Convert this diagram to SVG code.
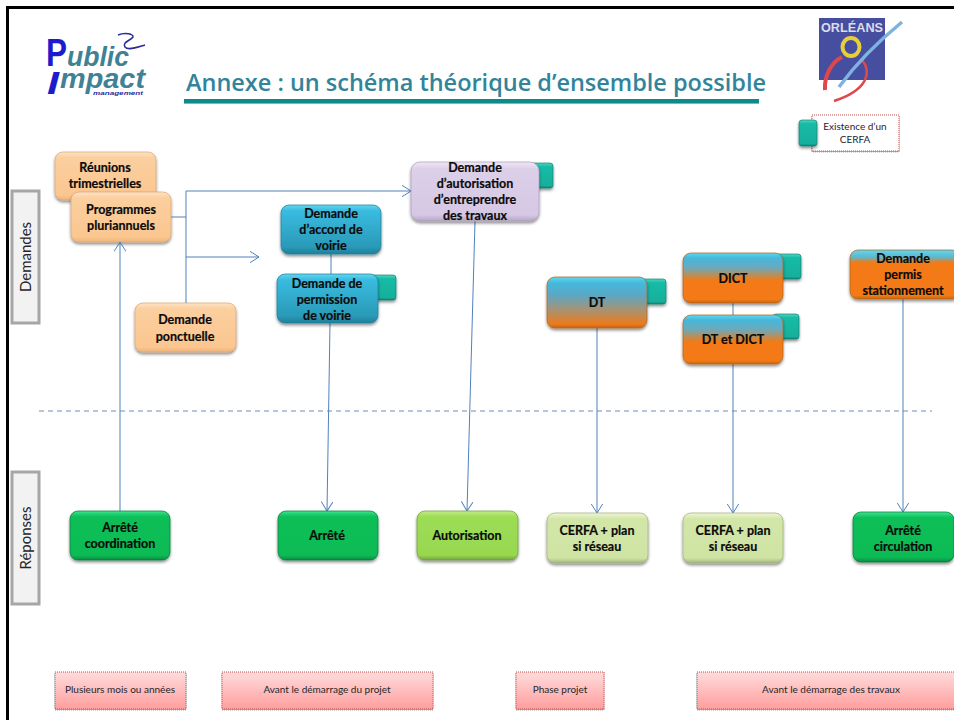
<svg xmlns="http://www.w3.org/2000/svg" width="954" height="720" viewBox="0 0 954 720">
<style>
.n{font:700 12.5px Lato,"Liberation Sans",sans-serif;fill:#0a0a0a;stroke:#0a0a0a;stroke-width:.2;text-anchor:middle}
.s{font:400 10px Lato,"Liberation Sans",sans-serif;fill:#262626;text-anchor:middle}
.side{font:400 15px Lato,"Liberation Sans",sans-serif;fill:#262626;text-anchor:middle}
.box{filter:url(#sh);stroke-width:.7}
.tab{fill:url(#gTeal);stroke:#12766b;stroke-width:.6;filter:url(#sh)}
.con{fill:none;stroke:#4f81bd;stroke-width:1}
.red{fill:url(#gRed);stroke:#c0504d;stroke-width:1;stroke-dasharray:1 1;filter:url(#shs)}
.sd{fill:#f2f2f2;stroke:#a6a6a6;stroke-width:3}
</style>
<defs>
<filter id="sh" x="-15%" y="-15%" width="130%" height="140%"><feDropShadow dx="0" dy="2" stdDeviation="1.500" flood-color="#000" flood-opacity=".45"/></filter>
<filter id="shs" x="-5%" y="-10%" width="110%" height="125%"><feDropShadow dx="0" dy="1" stdDeviation=".7" flood-color="#000" flood-opacity=".35"/></filter>
<linearGradient id="gOr" x1="0" y1="0" x2="0" y2="1"><stop offset="0" stop-color="#fde3c6"/><stop offset=".12" stop-color="#fbcf9f"/><stop offset=".9" stop-color="#fbc690"/><stop offset="1" stop-color="#eeb47a"/></linearGradient>
<linearGradient id="gBl" x1="0" y1="0" x2="0" y2="1"><stop offset="0" stop-color="#62d6ee"/><stop offset=".12" stop-color="#39bbe0"/><stop offset=".85" stop-color="#2a9ab8"/><stop offset="1" stop-color="#1f7f9a"/></linearGradient>
<linearGradient id="gLi" x1="0" y1="0" x2="0" y2="1"><stop offset="0" stop-color="#efe8f5"/><stop offset=".12" stop-color="#dccfe8"/><stop offset=".9" stop-color="#d6c8e4"/><stop offset="1" stop-color="#b5a6c4"/></linearGradient>
<linearGradient id="gDt" x1="0" y1="0" x2="0" y2="1"><stop offset="0" stop-color="#5fd8ef"/><stop offset=".12" stop-color="#45b8dc"/><stop offset=".35" stop-color="#5ba7c4"/><stop offset=".65" stop-color="#a99272"/><stop offset=".92" stop-color="#ec7b1c"/><stop offset="1" stop-color="#c9660f"/></linearGradient>
<linearGradient id="gDi" x1="0" y1="0" x2="0" y2="1"><stop offset="0" stop-color="#5fd8ef"/><stop offset=".1" stop-color="#45b8dc"/><stop offset=".3" stop-color="#6ea8b8"/><stop offset=".55" stop-color="#f37a12"/><stop offset=".93" stop-color="#f37a12"/><stop offset="1" stop-color="#c9660f"/></linearGradient>
<linearGradient id="gPe" x1="0" y1="0" x2="0" y2="1"><stop offset="0" stop-color="#5fd8ef"/><stop offset=".14" stop-color="#5cb8d0"/><stop offset=".26" stop-color="#f37a12"/><stop offset=".93" stop-color="#f37a12"/><stop offset="1" stop-color="#c9660f"/></linearGradient>
<linearGradient id="gGr" x1="0" y1="0" x2="0" y2="1"><stop offset="0" stop-color="#3ee38e"/><stop offset=".12" stop-color="#08bf57"/><stop offset=".9" stop-color="#08bb54"/><stop offset="1" stop-color="#068f42"/></linearGradient>
<linearGradient id="gLm" x1="0" y1="0" x2="0" y2="1"><stop offset="0" stop-color="#c4ec86"/><stop offset=".12" stop-color="#9cdd56"/><stop offset=".9" stop-color="#98d850"/><stop offset="1" stop-color="#74a83c"/></linearGradient>
<linearGradient id="gPa" x1="0" y1="0" x2="0" y2="1"><stop offset="0" stop-color="#eef6d4"/><stop offset=".12" stop-color="#d2e6a8"/><stop offset=".9" stop-color="#cfe4a3"/><stop offset="1" stop-color="#a4b480"/></linearGradient>
<linearGradient id="gTeal" x1="0" y1="0" x2="0" y2="1"><stop offset="0" stop-color="#4fd6c2"/><stop offset=".15" stop-color="#16bba6"/><stop offset=".9" stop-color="#14b09c"/><stop offset="1" stop-color="#0e8878"/></linearGradient>
<linearGradient id="gRed" x1="0" y1="0" x2="0" y2="1"><stop offset="0" stop-color="#ffdcdc"/><stop offset="1" stop-color="#ff9e9e"/></linearGradient>
<marker id="arr" viewBox="0 0 10 12" refX="9.500" refY="6" markerWidth="10" markerHeight="12" markerUnits="userSpaceOnUse" orient="auto"><path d="M0 0L9.500 6L0 12" fill="none" stroke="#4f81bd" stroke-width="1"/></marker>
</defs>

<rect width="954" height="720" fill="#fff"/>
<path d="M7.500 720V7.500H954" fill="none" stroke="#000" stroke-width="3"/>

<g id="logo-public-impact">
<text x="46" y="66" font-family="Liberation Sans,sans-serif" font-size="38" font-weight="700" fill="#1c1ccc" textLength="21" lengthAdjust="spacingAndGlyphs">P</text>
<text x="67" y="66" font-family="Liberation Sans,sans-serif" font-size="27" font-weight="700" font-style="italic" fill="#3f8296" textLength="62" lengthAdjust="spacingAndGlyphs">ublic</text>
<text x="47" y="94" font-family="Liberation Sans,sans-serif" font-size="32" font-weight="700" font-style="italic" fill="#1c1ccc" textLength="12" lengthAdjust="spacingAndGlyphs">I</text>
<text x="60" y="88" font-family="Liberation Sans,sans-serif" font-size="27" font-weight="700" font-style="italic" fill="#3f8296" textLength="85" lengthAdjust="spacingAndGlyphs">mpact</text>
<text x="93" y="95" font-family="Liberation Sans,sans-serif" font-size="6" font-weight="700" font-style="italic" fill="#2a2a9a" textLength="50" lengthAdjust="spacingAndGlyphs">management</text>
<path d="M118 35C125 32 134 34 133 37C130 41 122 42 125 47C128 51 138 47 145 45" fill="none" stroke="#2a2a9a" stroke-width="1.500"/>
</g>

<g id="title">
<text x="186" y="91" font-family="Open Sans,Liberation Sans,sans-serif" font-size="23.500" font-weight="600" fill="#31849b" textLength="580" lengthAdjust="spacing">Annexe : un schéma théorique d’ensemble possible</text>
<rect x="184" y="99" width="575" height="4" fill="#0f8a8a" filter="url(#shs)"/>
</g>

<g id="logo-orleans">
<rect x="819" y="18" width="66" height="62" fill="#464ea0"/>
<text x="852" y="32" font-family="Liberation Sans,sans-serif" font-size="12.500" font-weight="700" fill="#dcdcea" text-anchor="middle" textLength="62" lengthAdjust="spacingAndGlyphs">ORLÉANS</text>
<ellipse cx="851" cy="47" rx="8.500" ry="9" fill="none" stroke="#e6cf3a" stroke-width="4"/>
<path d="M842 57C832 62 824 75 825 90" fill="none" stroke="#e0474c" stroke-width="4"/>
<path d="M862 60C872 72 868 90 834 101" fill="none" stroke="#e0474c" stroke-width="2.500"/>
<path d="M839 87C855 65 880 40 902 22" fill="none" stroke="#7fb2e0" stroke-width="3.500"/>
</g>

<g id="legend">
<rect class="red" x="812" y="115" width="87" height="36" style="fill:#fff"/>
<rect class="tab" x="799" y="120" width="18" height="26" rx="3"/>
<text class="s" x="855" y="130">Existence d’un</text>
<text class="s" x="855" y="143">CERFA</text>
</g>

<g id="side-demandes">
<rect class="sd" x="12" y="191" width="27" height="132"/>
<text class="side" transform="translate(31 257) rotate(-90)">Demandes</text>
</g>
<g id="side-reponses">
<rect class="sd" x="12" y="472" width="27" height="132"/>
<text class="side" transform="translate(31 538) rotate(-90)">Réponses</text>
</g>

<line id="separator" x1="39" y1="411" x2="932" y2="411" stroke="#4f6f9f" stroke-width=".8" stroke-dasharray="5 4"/>

<g id="node-reunions">
<rect class="box" x="55" y="152" width="101" height="48" rx="8" fill="url(#gOr)" stroke="#d9a672"/>
<text class="n" x="105" y="172">Réunions</text><text class="n" x="105" y="188">trimestrielles</text>
</g>
<g id="node-programmes">
<rect class="box" x="71" y="192" width="100" height="50" rx="8" fill="url(#gOr)" stroke="#d9a672"/>
<text class="n" x="121" y="214">Programmes</text><text class="n" x="121" y="230">pluriannuels</text>
</g>
<g id="node-ponctuelle">
<rect class="box" x="135" y="303" width="101" height="49" rx="8" fill="url(#gOr)" stroke="#d9a672"/>
<text class="n" x="185" y="324">Demande</text><text class="n" x="185" y="341">ponctuelle</text>
</g>

<g id="connectors">
<path class="con" d="M120 511V242" marker-end="url(#arr)"/>
<path class="con" d="M171 217H186"/>
<path class="con" d="M186 303V191H411" marker-end="url(#arr)"/>
<path class="con" d="M186 257H259" marker-end="url(#arr)"/>
<path class="con" d="M331 254V274"/>
<path class="con" d="M330 323L327 511" marker-end="url(#arr)"/>
<path class="con" d="M475 221L467 511" marker-end="url(#arr)"/>
<path class="con" d="M597 328V513" marker-end="url(#arr)"/>
<path class="con" d="M733 303V315"/>
<path class="con" d="M733 364V513" marker-end="url(#arr)"/>
<path class="con" d="M903 299V512" marker-end="url(#arr)"/>
</g>

<g id="node-accord">
<rect class="box" x="281" y="205" width="100" height="49" rx="8" fill="url(#gBl)" stroke="#1f7f9a"/>
<text class="n" x="331" y="218">Demande</text><text class="n" x="331" y="234">d’accord de</text><text class="n" x="331" y="250">voirie</text>
</g>
<g id="node-permission">
<rect class="tab" x="370" y="275" width="26" height="25" rx="3"/>
<rect class="box" x="277" y="274" width="101" height="49" rx="8" fill="url(#gBl)" stroke="#1f7f9a"/>
<text class="n" x="327" y="288">Demande de</text><text class="n" x="327" y="304">permission</text><text class="n" x="327" y="320">de voirie</text>
</g>
<g id="node-autorisation-travaux">
<rect class="tab" x="531" y="163" width="22" height="25" rx="3"/>
<rect class="box" x="411" y="162" width="128" height="59" rx="9" fill="url(#gLi)" stroke="#a99bb8"/>
<text class="n" x="475" y="172">Demande</text><text class="n" x="475" y="188">d’autorisation</text><text class="n" x="475" y="204">d’entreprendre</text><text class="n" x="475" y="220">des travaux</text>
</g>
<g id="node-dt">
<rect class="tab" x="640" y="279" width="26" height="25" rx="3"/>
<rect class="box" x="547" y="277" width="100" height="51" rx="8" fill="url(#gDt)" stroke="#b0651f"/>
<text class="n" x="597" y="307">DT</text>
</g>
<g id="node-dict">
<rect class="tab" x="775" y="254" width="26" height="25" rx="3"/>
<rect class="box" x="683" y="253" width="100" height="50" rx="8" fill="url(#gDi)" stroke="#b0651f"/>
<text class="n" x="733" y="283">DICT</text>
</g>
<g id="node-dt-dict">
<rect class="tab" x="773" y="314" width="26" height="25" rx="3"/>
<rect class="box" x="683" y="315" width="100" height="49" rx="8" fill="url(#gDi)" stroke="#b0651f"/>
<text class="n" x="733" y="344">DT et DICT</text>
</g>
<g id="node-permis">
<rect class="box" x="850" y="250" width="110" height="49" rx="8" fill="url(#gPe)" stroke="#b0651f"/>
<text class="n" x="903" y="263">Demande</text><text class="n" x="903" y="279">permis</text><text class="n" x="903" y="295">stationnement</text>
</g>

<g id="node-arrete-coordination">
<rect class="box" x="70" y="511" width="100" height="49" rx="8" fill="url(#gGr)" stroke="#067a3a"/>
<text class="n" x="120" y="532">Arrêté</text><text class="n" x="120" y="548">coordination</text>
</g>
<g id="node-arrete">
<rect class="box" x="278" y="511" width="100" height="49" rx="8" fill="url(#gGr)" stroke="#067a3a"/>
<text class="n" x="327" y="540">Arrêté</text>
</g>
<g id="node-autorisation">
<rect class="box" x="417" y="511" width="101" height="49" rx="8" fill="url(#gLm)" stroke="#6f9a3a"/>
<text class="n" x="467" y="540">Autorisation</text>
</g>
<g id="node-cerfa-1">
<rect class="box" x="547" y="513" width="101" height="50" rx="8" fill="url(#gPa)" stroke="#9fb07a"/>
<text class="n" x="597" y="535">CERFA + plan</text><text class="n" x="597" y="551">si réseau</text>
</g>
<g id="node-cerfa-2">
<rect class="box" x="683" y="513" width="100" height="50" rx="8" fill="url(#gPa)" stroke="#9fb07a"/>
<text class="n" x="733" y="535">CERFA + plan</text><text class="n" x="733" y="551">si réseau</text>
</g>
<g id="node-arrete-circulation">
<rect class="box" x="853" y="512" width="101" height="50" rx="8" fill="url(#gGr)" stroke="#067a3a"/>
<text class="n" x="903" y="535">Arrêté</text><text class="n" x="903" y="551">circulation</text>
</g>

<g id="time-1"><rect class="red" x="55" y="672" width="131" height="37"/><text class="s" x="120" y="693">Plusieurs mois ou années</text></g>
<g id="time-2"><rect class="red" x="222" y="672" width="211" height="37"/><text class="s" x="327" y="693">Avant le démarrage du projet</text></g>
<g id="time-3"><rect class="red" x="516" y="672" width="88" height="37"/><text class="s" x="560" y="693">Phase projet</text></g>
<g id="time-4"><rect class="red" x="697" y="672" width="260" height="37"/><text class="s" x="831" y="693">Avant le démarrage des travaux</text></g>
</svg>
